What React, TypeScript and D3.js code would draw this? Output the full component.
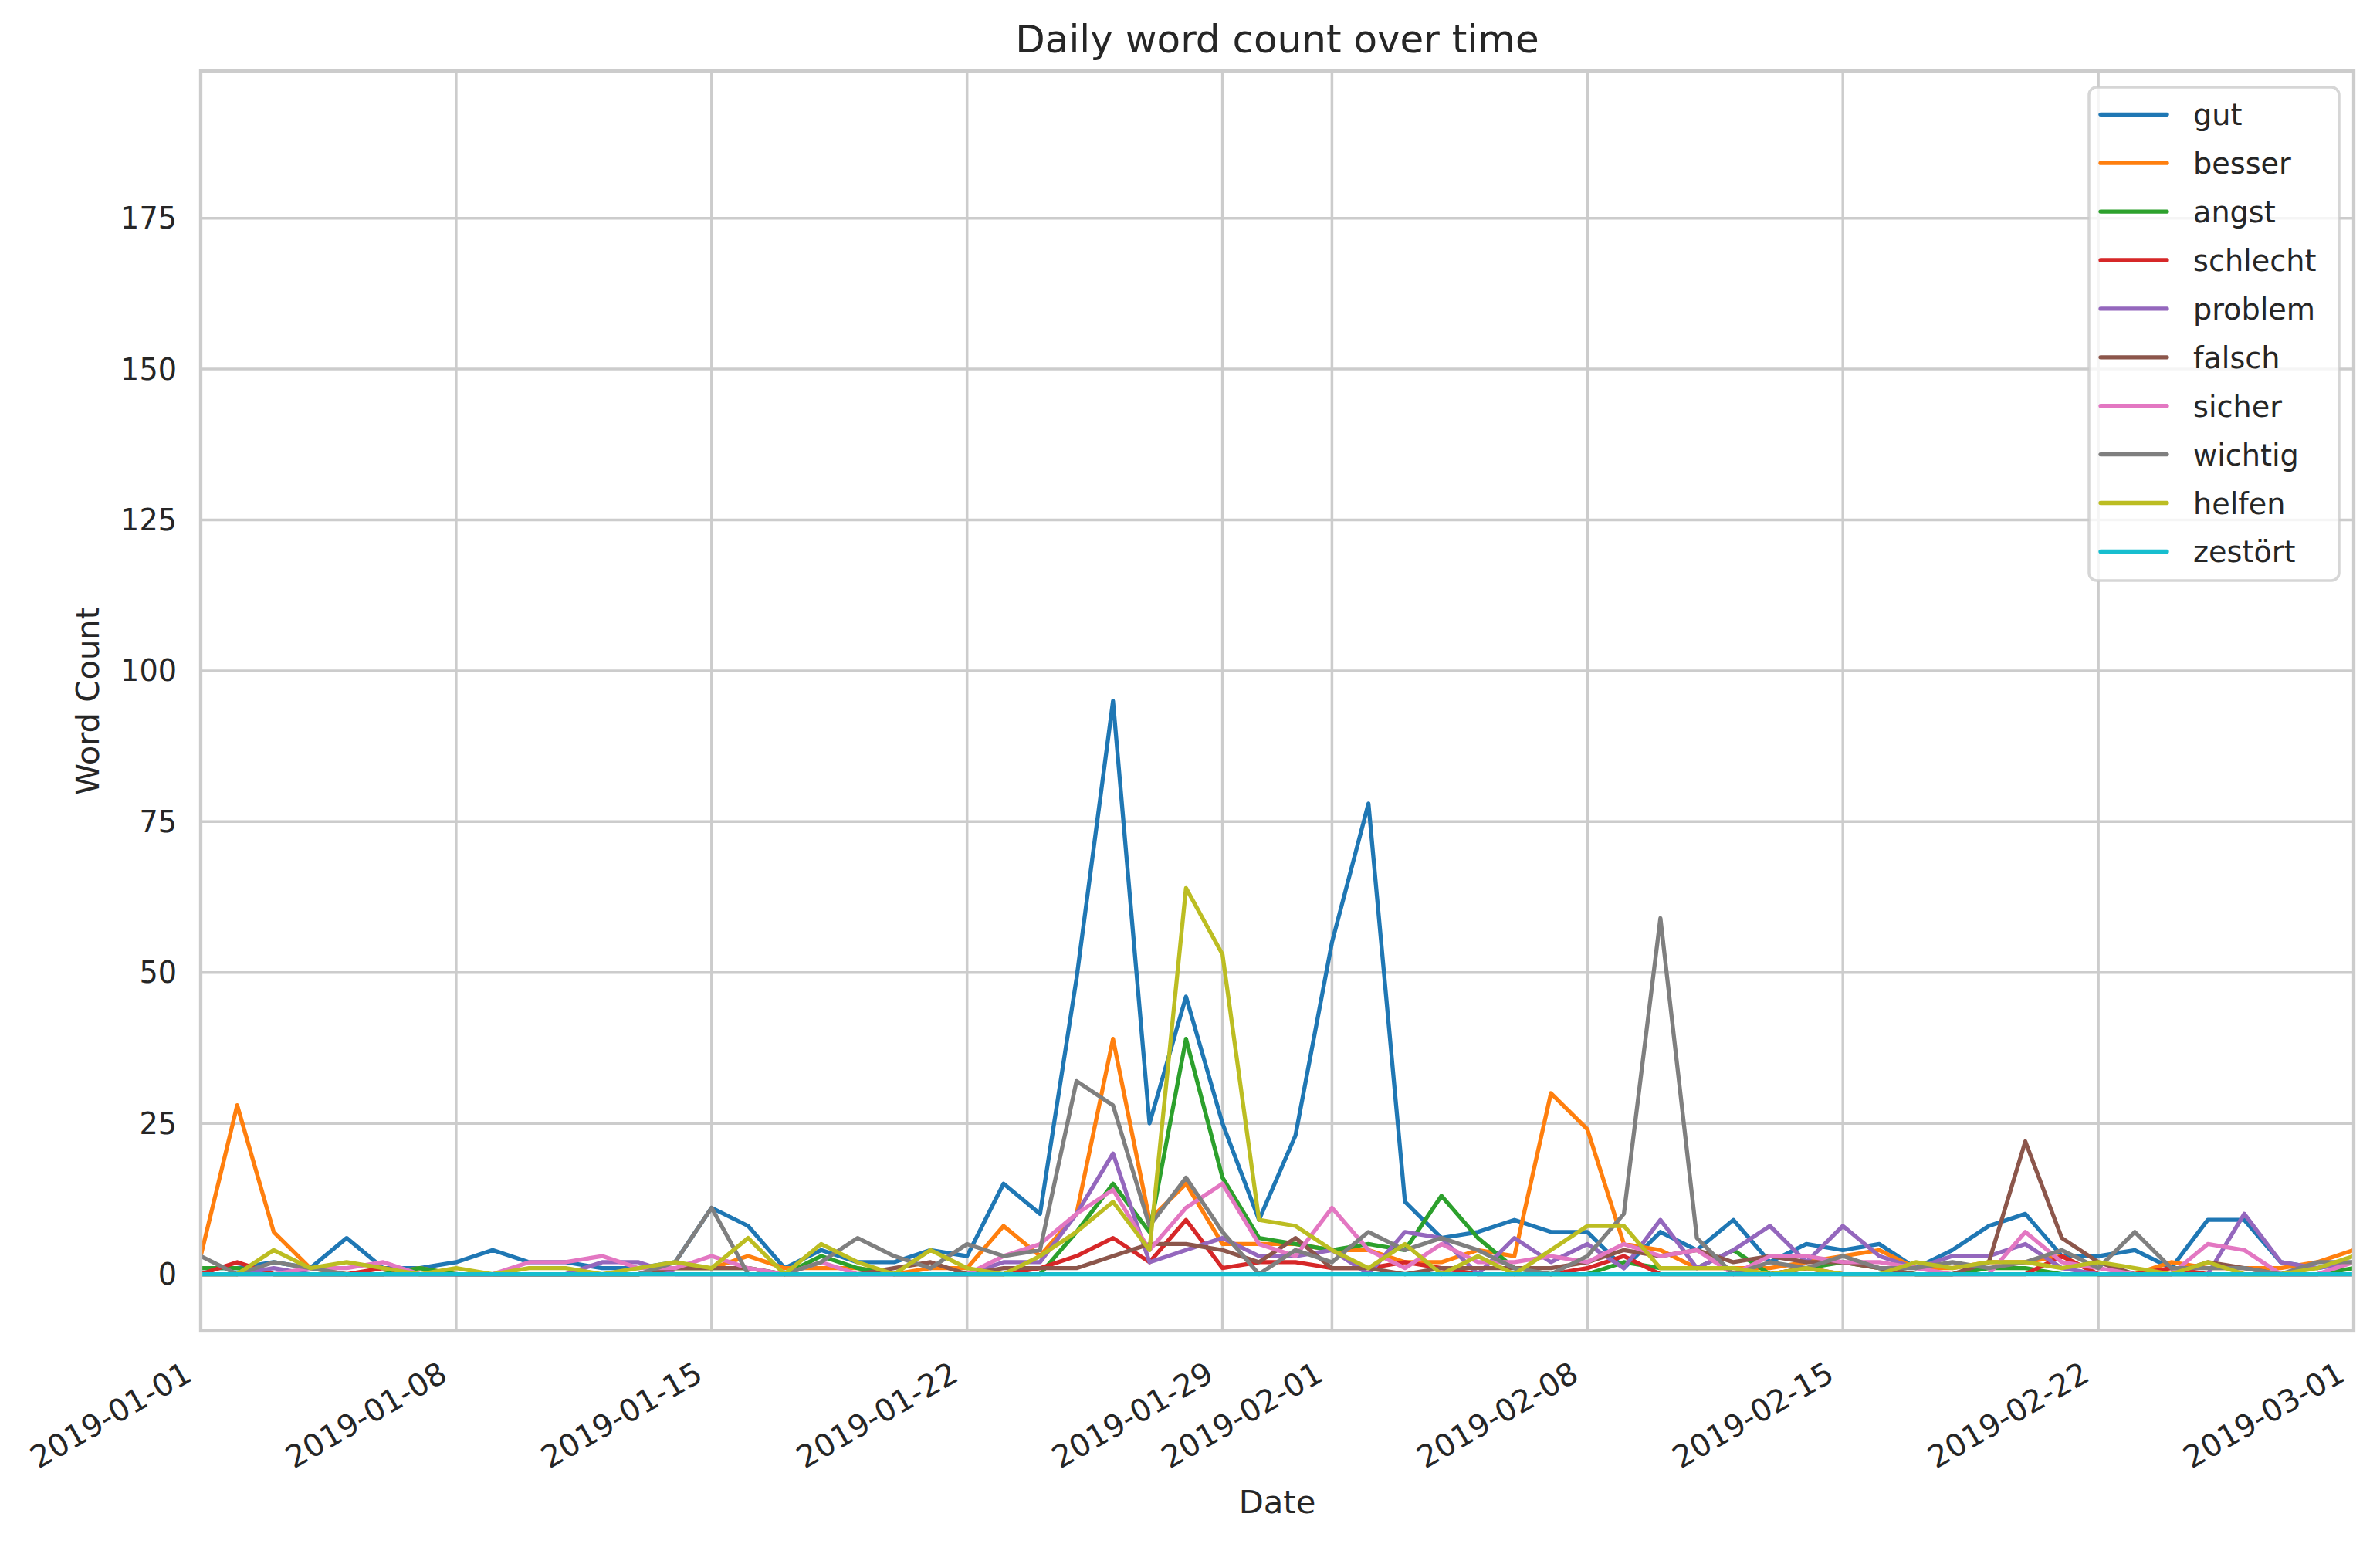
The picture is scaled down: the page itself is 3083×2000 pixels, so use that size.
import React from "react";
import * as d3 from "d3";

const W = 3083;
const H = 2000;
const M = { left: 260, right: 3049, top: 92, bottom: 1724 };

const startDate = "2019-01-01";
const endDate = "2019-03-01";
const xTickLabels = [
  "2019-01-01", "2019-01-08", "2019-01-15", "2019-01-22", "2019-01-29",
  "2019-02-01", "2019-02-08", "2019-02-15", "2019-02-22", "2019-03-01",
];
const yTicks = [0, 25, 50, 75, 100, 125, 150, 175];

const words = ["gut", "besser", "angst", "schlecht", "problem", "falsch", "sicher", "wichtig", "helfen", "zestört"];
const colors = ["#1f77b4", "#ff7f0e", "#2ca02c", "#d62728", "#9467bd", "#8c564b", "#e377c2", "#7f7f7f", "#bcbd22", "#17becf"];

const gut = [1, 1, 2, 1, 6, 1, 1, 2, 4, 2, 2, 1, 1, 2, 11, 8, 1, 4, 2, 2, 4, 3, 15, 10, 49, 95, 25, 46, 25, 9, 23, 55, 78, 12, 6, 7, 9, 7, 7, 1, 7, 4, 9, 2, 5, 4, 5, 1, 4, 8, 10, 3, 3, 4, 1, 9, 9, 2, 1, 2];
const besser = [3, 28, 7, 1, 0, 0, 1, 0, 0, 0, 0, 0, 0, 1, 1, 3, 1, 1, 1, 0, 1, 1, 8, 3, 10, 39, 9, 15, 5, 5, 5, 4, 4, 2, 2, 4, 3, 30, 24, 5, 4, 1, 1, 1, 2, 3, 4, 1, 1, 2, 2, 3, 0, 0, 2, 1, 1, 1, 2, 4];
const angst = [1, 1, 0, 0, 0, 0, 1, 0, 0, 0, 0, 0, 0, 1, 1, 1, 0, 3, 1, 0, 0, 0, 0, 0, 7, 15, 7, 39, 16, 6, 5, 4, 5, 4, 13, 6, 1, 0, 0, 2, 1, 1, 4, 0, 1, 2, 1, 0, 0, 1, 1, 0, 0, 0, 0, 0, 0, 0, 0, 1];
const schlecht = [0, 2, 0, 0, 0, 1, 0, 0, 0, 0, 0, 0, 0, 0, 0, 0, 0, 0, 0, 0, 0, 0, 0, 1, 3, 6, 2, 9, 1, 2, 2, 1, 1, 2, 1, 0, 0, 0, 1, 3, 0, 0, 0, 0, 1, 0, 0, 0, 0, 0, 0, 3, 0, 0, 1, 0, 0, 0, 0, 0];
const problem = [0, 0, 1, 0, 0, 0, 0, 0, 0, 0, 0, 2, 2, 0, 0, 0, 0, 0, 0, 0, 0, 0, 2, 2, 10, 20, 2, 4, 6, 3, 3, 4, 0, 7, 6, 0, 6, 2, 5, 1, 9, 1, 4, 8, 2, 8, 3, 1, 3, 3, 5, 1, 0, 0, 0, 0, 10, 2, 1, 2];
const falsch = [0, 0, 0, 0, 0, 0, 0, 0, 0, 0, 0, 0, 0, 1, 1, 1, 0, 0, 0, 1, 2, 0, 1, 1, 1, 3, 5, 5, 4, 2, 6, 1, 1, 0, 1, 1, 1, 1, 2, 4, 3, 4, 2, 3, 2, 2, 1, 0, 0, 2, 22, 6, 2, 0, 0, 2, 1, 0, 0, 0];
const sicher = [0, 0, 0, 1, 1, 2, 0, 0, 0, 2, 2, 3, 1, 1, 3, 1, 0, 2, 0, 0, 0, 0, 3, 5, 10, 14, 4, 11, 15, 5, 3, 11, 4, 1, 5, 2, 2, 3, 2, 5, 3, 4, 0, 3, 3, 2, 2, 1, 0, 0, 7, 2, 1, 0, 0, 5, 4, 0, 0, 2];
const wichtig = [3, 0, 2, 1, 0, 0, 0, 0, 0, 0, 0, 0, 0, 2, 11, 0, 0, 2, 6, 3, 1, 5, 3, 4, 32, 28, 8, 16, 7, 0, 4, 2, 7, 4, 6, 4, 1, 0, 3, 10, 59, 6, 0, 2, 1, 3, 1, 1, 2, 1, 2, 4, 1, 7, 1, 1, 1, 0, 2, 2];
const helfen = [0, 0, 4, 1, 2, 1, 0, 1, 0, 1, 1, 0, 1, 2, 1, 6, 0, 5, 2, 0, 4, 1, 0, 3, 7, 12, 4, 64, 53, 9, 8, 4, 1, 5, 0, 3, 0, 4, 8, 8, 1, 1, 1, 0, 1, 0, 0, 2, 1, 2, 2, 1, 2, 1, 0, 2, 0, 0, 1, 3];
const zestoert = [0, 0, 0, 0, 0, 0, 0, 0, 0, 0, 0, 0, 0, 0, 0, 0, 0, 0, 0, 0, 0, 0, 0, 0, 0, 0, 0, 0, 0, 0, 0, 0, 0, 0, 0, 0, 0, 0, 0, 0, 0, 0, 0, 0, 0, 0, 0, 0, 0, 0, 0, 0, 0, 0, 0, 0, 0, 0, 0, 0];

const seriesValues = [gut, besser, angst, schlecht, problem, falsch, sicher, wichtig, helfen, zestoert];

const FONT = "'DejaVu Sans', sans-serif";
const TEXT = "#262626";
const GRID = "#cccccc";

export default function App() {
  const parse = d3.utcParse("%Y-%m-%d");
  const t0 = parse(startDate) as Date;
  const t1 = parse(endDate) as Date;
  const dates = d3.utcDay.range(t0, d3.utcDay.offset(t1, 1));

  const x = d3.scaleUtc().domain([t0, t1]).range([M.left, M.right]);
  const y = d3.scaleLinear().domain([-9.4, 199.4]).range([M.bottom, M.top]);

  const line = d3
    .line<number>()
    .x((_, i) => x(dates[i]))
    .y((v) => y(v));

  const xTicks = xTickLabels.map((s) => parse(s) as Date);

  const legendLeft = 2706;
  const legendTop = 113;
  const legendRight = 3030;
  const legendBottom = 752;
  const rowStart = 148.3;
  const rowStep = 62.9;

  return (
    <svg
      width={W}
      height={H}
      viewBox={`0 0 ${W} ${H}`}
      style={{ position: "absolute", left: 0, top: 0, display: "block", background: "#ffffff" }}
      fontFamily={FONT}
    >
      <rect x={0} y={0} width={W} height={H} fill="#ffffff" />
      <defs>
        <clipPath id="plotclip">
          <rect x={M.left} y={M.top} width={M.right - M.left} height={M.bottom - M.top} />
        </clipPath>
      </defs>

      {/* grid */}
      <g stroke={GRID} strokeWidth={3.5} strokeLinecap="square">
        {xTicks.map((d, i) => (
          <line key={"gx" + i} x1={x(d)} x2={x(d)} y1={M.top} y2={M.bottom} />
        ))}
        {yTicks.map((v) => (
          <line key={"gy" + v} x1={M.left} x2={M.right} y1={y(v)} y2={y(v)} />
        ))}
      </g>

      {/* lines */}
      <g clipPath="url(#plotclip)" fill="none" strokeWidth={5.3} strokeLinejoin="round" strokeLinecap="square">
        {seriesValues.map((vals, i) => (
          <path key={words[i]} d={line(vals) || ""} stroke={colors[i]} />
        ))}
      </g>

      {/* spines */}
      <rect
        x={M.left}
        y={M.top}
        width={M.right - M.left}
        height={M.bottom - M.top}
        fill="none"
        stroke={GRID}
        strokeWidth={4.3}
      />

      {/* y tick labels */}
      <g fontSize={38.2} fill={TEXT} textAnchor="end">
        {yTicks.map((v) => (
          <text key={"yl" + v} x={229} y={y(v) + 13.5}>
            {v}
          </text>
        ))}
      </g>

      {/* x tick labels */}
      <g fontSize={40} fill={TEXT} textAnchor="end">
        {xTicks.map((d, i) => {
          const ax = x(d) - 9;
          const ay = 1787;
          return (
            <text key={"xl" + i} x={ax} y={ay} transform={`rotate(-30 ${ax} ${ay})`}>
              {xTickLabels[i]}
            </text>
          );
        })}
      </g>

      {/* axis labels and title */}
      <text x={(M.left + M.right) / 2} y={1960} fontSize={41.7} fill={TEXT} textAnchor="middle">
        Date
      </text>
      <text
        x={128}
        y={(M.top + M.bottom) / 2}
        fontSize={41.7}
        fill={TEXT}
        textAnchor="middle"
        transform={`rotate(-90 128 ${(M.top + M.bottom) / 2})`}
      >
        Word Count
      </text>
      <text x={(M.left + M.right) / 2} y={68} fontSize={50} fill={TEXT} textAnchor="middle">
        Daily word count over time
      </text>

      {/* legend */}
      <g>
        <rect
          x={legendLeft}
          y={legendTop}
          width={legendRight - legendLeft}
          height={legendBottom - legendTop}
          rx={10}
          ry={10}
          fill="#ffffff"
          fillOpacity={0.8}
          stroke={GRID}
          strokeOpacity={0.8}
          strokeWidth={3.5}
        />
        {words.map((w, i) => {
          const cy = rowStart + i * rowStep;
          return (
            <g key={"lg" + w}>
              <line x1={2721} x2={2807} y1={cy} y2={cy} stroke={colors[i]} strokeWidth={5.3} strokeLinecap="round" />
              <text x={2841} y={cy + 14} fontSize={38.2} fill={TEXT}>
                {w}
              </text>
            </g>
          );
        })}
      </g>
    </svg>
  );
}
